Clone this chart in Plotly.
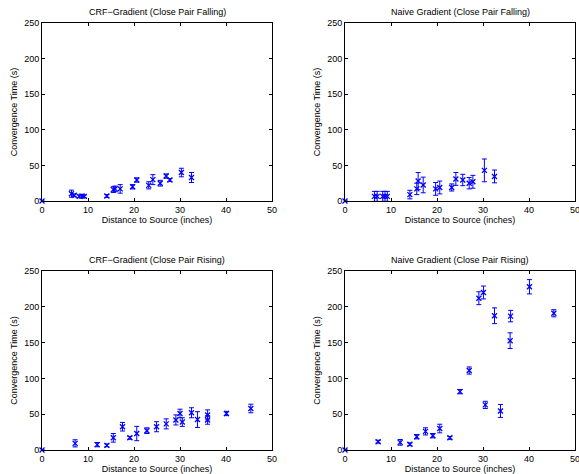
import plotly.graph_objects as go

# ---- Data ----
crf_fall_x = [0, 6.4, 7.0, 8.1, 8.7, 9.2, 14.1, 15.5, 15.9, 17.0, 19.7, 20.6, 23.2, 24.1, 25.7, 27.0, 27.8, 30.3, 32.5]
crf_fall_y = [0, 10.3, 8, 6.5, 7, 6.5, 7, 16, 17, 17, 20, 29.5, 22, 30, 25, 35, 29.5, 40, 33]
crf_fall_e = [0, 5, 2, 2, 2, 2, 2, 4, 4, 6, 3, 3, 5, 7, 4, 3, 2, 6, 7]

naive_fall_x = [0, 6.4, 7.0, 8.2, 8.7, 9.2, 14.1, 15.6, 15.9, 17.0, 19.7, 20.6, 23.2, 24.1, 25.6, 27.0, 27.8, 30.3, 32.5]
naive_fall_y = [0, 6.5, 6.5, 6.5, 6.5, 6.5, 9, 17, 28, 22.5, 17, 19, 19, 31, 29.5, 25, 27, 43, 34.5]
naive_fall_e = [0, 7, 7, 7, 7, 7, 6, 8, 12, 11, 9, 9, 5, 9, 8, 8, 9, 16, 9]

crf_rise_x = [0, 7.2, 12.0, 14.1, 15.5, 17.5, 19.1, 20.6, 22.8, 24.9, 27.0, 29.1, 30.0, 30.5, 32.5, 33.8, 36.0, 36.0, 40.1, 45.4]
crf_rise_y = [0, 9.3, 7.5, 6.5, 17, 32.5, 17, 23, 27, 32.5, 36.5, 42, 51, 39, 52, 42.5, 49, 42, 51, 58]
crf_rise_e = [0, 5, 3, 2, 6, 6, 2, 10, 4, 7, 7, 7, 6, 6, 7, 11, 7, 6, 3, 6]

naive_rise_x = [0, 7.2, 12.0, 14.1, 15.6, 17.5, 19.1, 20.6, 22.8, 25.0, 27.0, 29.1, 30.1, 30.5, 32.5, 33.8, 35.9, 36.0, 40.1, 45.4]
naive_rise_y = [0, 11.6, 10.7, 8, 18.6, 26, 20, 30, 17, 81.5, 111, 212, 220, 63, 187.5, 54.5, 152.7, 187, 228, 191]
naive_rise_e = [0, 2, 4, 2, 3, 5, 3, 6, 2, 3, 5, 9, 9, 5, 11, 9, 11, 8, 10, 5]

titles = ["CRF\u2212Gradient (Close Pair Falling)", "Naive Gradient (Close Pair Falling)",
          "CRF\u2212Gradient (Close Pair Rising)", "Naive Gradient (Close Pair Rising)"]
series = [(crf_fall_x, crf_fall_y, crf_fall_e), (naive_fall_x, naive_fall_y, naive_fall_e),
          (crf_rise_x, crf_rise_y, crf_rise_e), (naive_rise_x, naive_rise_y, naive_rise_e)]

W, H = 579, 474
xdoms = [[42 / W, 272 / W], [345 / W, 575 / W]]
ydoms = [[1 - 201 / H, 1 - 23 / H], [1 - 450 / H, 1 - 271 / H]]

FONT = "Liberation Sans, Arial, Helvetica, sans-serif"
BLUE = "rgb(0,0,255)"

fig = go.Figure()
annotations = []
for i, (xs, ys, es) in enumerate(series):
    r, c = divmod(i, 2)
    n = "" if i == 0 else str(i + 1)
    fig.add_trace(go.Scatter(
        x=xs, y=ys, mode="markers", xaxis="x" + n, yaxis="y" + n,
        marker=dict(symbol="x-thin", size=5, color=BLUE, line=dict(color=BLUE, width=1.3)),
        error_y=dict(type="data", array=es, visible=True, color=BLUE, thickness=1, width=2.5),
        cliponaxis=False, showlegend=False, hoverinfo="skip",
    ))
    axcommon = dict(showline=True, mirror="ticks", linecolor="black", linewidth=1,
                    ticks="inside", ticklen=3, tickcolor="black", showgrid=False, zeroline=False,
                    automargin=False, ticklabeloverflow="allow",
                    tickfont=dict(family=FONT, size=9, color="black"))
    fig.layout["xaxis" + n] = dict(domain=xdoms[c], anchor="y" + n, range=[0, 50], dtick=10,
                                   title=dict(text="Distance to Source (inches)", standoff=1,
                                              font=dict(family=FONT, size=9, color="black")),
                                   **axcommon)
    fig.layout["yaxis" + n] = dict(domain=ydoms[r], anchor="x" + n, range=[0, 250], dtick=50,
                                   title=dict(text="Convergence Time (s)", standoff=5,
                                              font=dict(family=FONT, size=9, color="black")),
                                   **axcommon)
    annotations.append(dict(text=titles[i], xref="paper", yref="paper",
                            x=(xdoms[c][0] + xdoms[c][1]) / 2, y=ydoms[r][1], yshift=4,
                            xanchor="center", yanchor="bottom", showarrow=False,
                            font=dict(family=FONT, size=9, color="black")))

fig.update_layout(width=W, height=H, margin=dict(l=0, r=0, t=0, b=0, autoexpand=False),
                  paper_bgcolor="white", plot_bgcolor="white", annotations=annotations)
fig.write_html("out.html", config={"displayModeBar": False},
               post_script="document.body.style.margin='0';document.body.style.padding='0';")
